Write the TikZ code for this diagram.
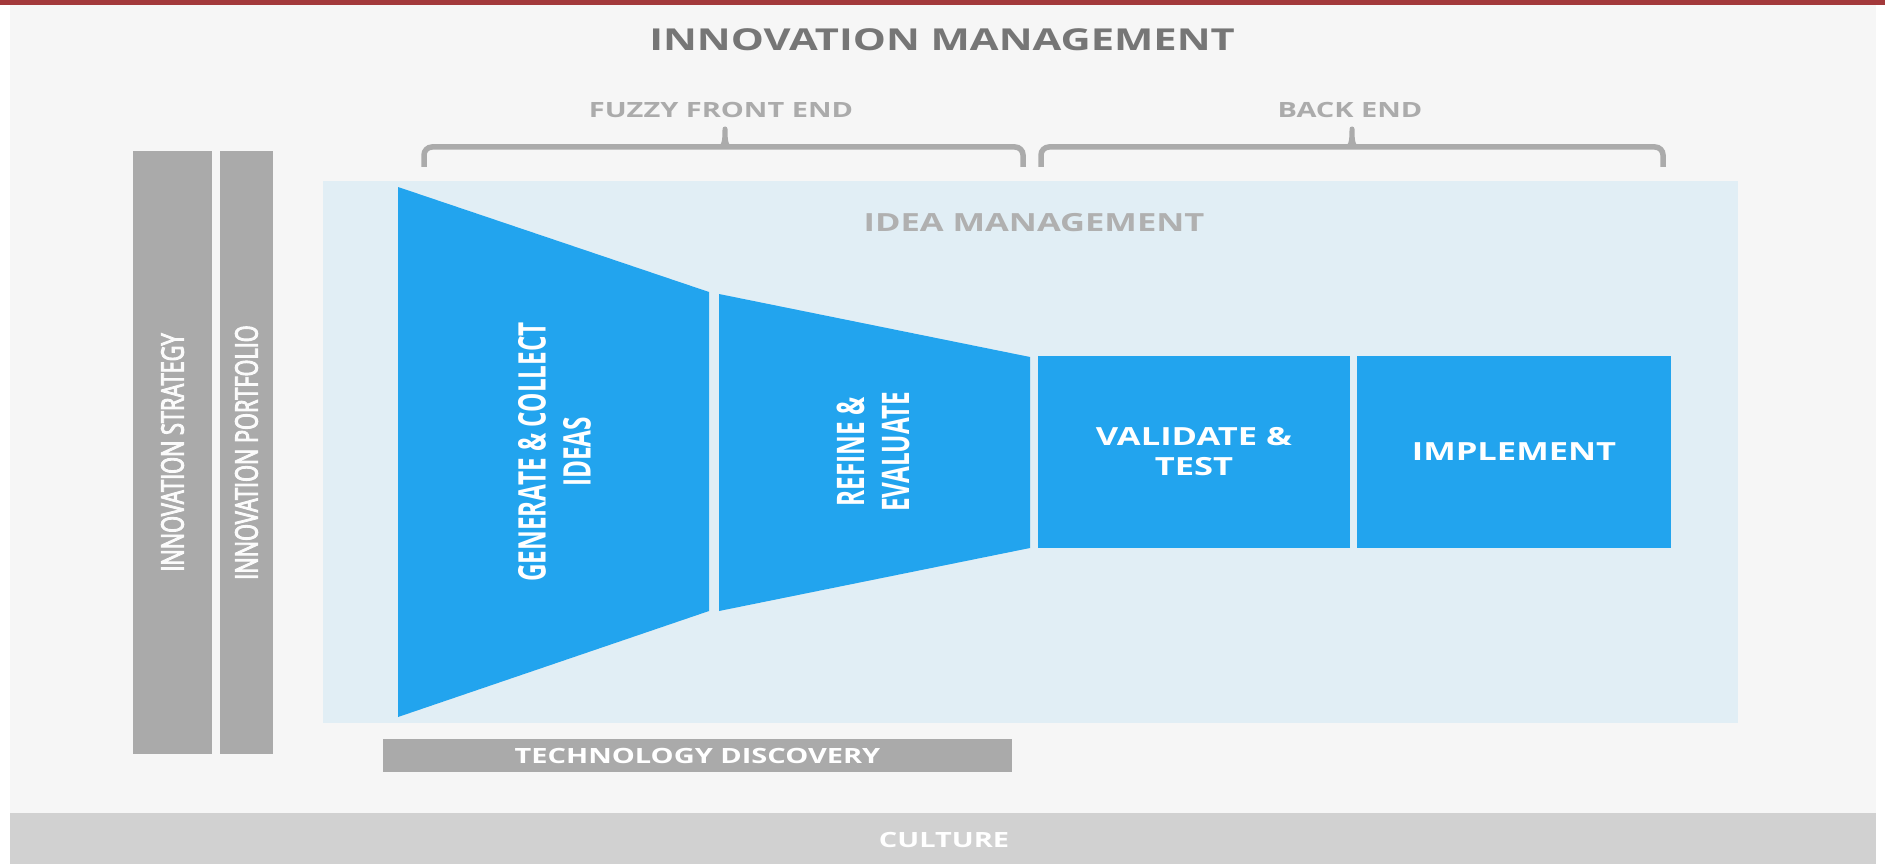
\documentclass[tikz,border=0pt]{standalone}
\usepackage{fontspec}
\setmainfont{Open Sans}
\newfontfamily\wideB[FakeStretch=1.38]{Open Sans}
\newfontfamily\condB[FakeStretch=0.64]{Open Sans}
\newfontfamily\condR[FakeStretch=0.70,FakeBold=3]{Open Sans}
\definecolor{bgc}{HTML}{F6F6F6}
\definecolor{redc}{HTML}{A3393B}
\definecolor{culturec}{HTML}{D1D1D1}
\definecolor{panelc}{HTML}{E1EEF5}
\definecolor{bluec}{HTML}{22A4EE}
\definecolor{grayc}{HTML}{AAAAAA}
\definecolor{titlec}{HTML}{767676}
\definecolor{subc}{HTML}{ABABAB}
\definecolor{ideac}{HTML}{B0B0B0}
\tikzset{
  plainbox/.style={inner sep=0pt, outer sep=0pt, draw=none},
  graybar/.style={plainbox, fill=grayc, text=white!95!grayc, align=center,
    font=\condR\fontsize{31}{36}\selectfont},
  bluebox/.style={plainbox, fill=bluec, text=white, align=center,
    font=\wideB\bfseries\fontsize{25}{30}\selectfont},
  condtext/.style={plainbox, text=white, align=center,
    font=\condB\bfseries\fontsize{38}{45}\selectfont},
  sublabel/.style={plainbox, text=subc, font=\wideB\bfseries\fontsize{21}{25}\selectfont},
  bracestyle/.style={draw=subc, line width=5.5pt, rounded corners=8pt},
  funnel/.style={fill=bluec}
}
\begin{document}
\begin{tikzpicture}[x=1pt,y=-1pt]
\useasboundingbox (0,0) rectangle (1885,864);
\fill[white] (0,0) rectangle (1885,864);
\fill[bgc] (10,5) rectangle (1876,813);
\fill[redc] (0,0) rectangle (1885,5.5);

% culture bar
\node[plainbox, fill=culturec, minimum width=1866, minimum height=51] (culture) at (943,838.5) {};
\node[plainbox, text=white, font=\wideB\bfseries\fontsize{21}{25}\selectfont] (cultureT) at (944,839.5) {CULTURE};

% title
\node[plainbox, text=titlec, font=\wideB\bfseries\fontsize{30.2}{36}\selectfont] (title) at (942,40) {INNOVATION MANAGEMENT};

% sub labels
\node[sublabel] (fuzzy) at (721,110) {FUZZY FRONT END};
\node[sublabel] (backend) at (1350,110) {BACK END};

% braces
\coordinate (fzL) at (424,167);
\coordinate (fzR) at (1023,167);
\coordinate (fzM) at (725,147);
\coordinate (beL) at (1041,167);
\coordinate (beR) at (1663,167);
\coordinate (beM) at (1352,147);
\draw[bracestyle] (fzL) -- (fzL |- fzM) -- (fzR |- fzM) -- (fzR);
\draw[bracestyle] (beL) -- (beL |- beM) -- (beR |- beM) -- (beR);
\fill[subc] ([xshift=-10pt,yshift=-2pt]fzM) .. controls ([xshift=-3pt]fzM) and ([xshift=-2.5pt,yshift=6pt]fzM) .. ([xshift=-2.5pt,yshift=18pt]fzM)
  arc[start angle=180, end angle=0, radius=2.5pt]
  .. controls ([xshift=2.5pt,yshift=6pt]fzM) and ([xshift=3pt]fzM) .. ([xshift=10pt,yshift=-2pt]fzM) -- cycle;
\fill[subc] ([xshift=-10pt,yshift=-2pt]beM) .. controls ([xshift=-3pt]beM) and ([xshift=-2.5pt,yshift=6pt]beM) .. ([xshift=-2.5pt,yshift=18pt]beM)
  arc[start angle=180, end angle=0, radius=2.5pt]
  .. controls ([xshift=2.5pt,yshift=6pt]beM) and ([xshift=3pt]beM) .. ([xshift=10pt,yshift=-2pt]beM) -- cycle;

% left bars
\node[graybar, rotate=90, minimum width=603, minimum height=79] (strategy) at (172.5,452.5) {INNOVATION STRATEGY};
\node[graybar, rotate=90, minimum width=603, minimum height=53] (portfolio) at (246.5,452.5) {INNOVATION PORTFOLIO};

% idea management panel
\node[plainbox, fill=panelc, minimum width=1415, minimum height=542] (panel) at (1030.5,452) {};
\node[plainbox, text=ideac, font=\wideB\bfseries\fontsize{25}{30}\selectfont] (ideaT) at (1034,223) {IDEA MANAGEMENT};

% technology discovery
\node[plainbox, fill=grayc, minimum width=629, minimum height=33, text=white,
  font=\wideB\bfseries\fontsize{21}{25}\selectfont] (tech) at (697.5,755.5) {TECHNOLOGY DISCOVERY};

% funnel
\fill[funnel] (398,187) -- (709,292) -- (709,611) -- (398,717) -- cycle;
\fill[funnel] (719,294) -- (1030,357) -- (1030,548) -- (719,611) -- cycle;
\node[condtext, rotate=90] (generate) at (554.5,452) {GENERATE \& COLLECT\\IDEAS};
\node[condtext, rotate=90] (refine) at (873,452) {REFINE \&\\EVALUATE};

% boxes
\node[bluebox, minimum width=312, minimum height=192] (validate) at (1194,452) {VALIDATE \&\\TEST};
\node[bluebox, minimum width=314, minimum height=192] (implement) at (1514,452) {IMPLEMENT};
\end{tikzpicture}
\end{document}
